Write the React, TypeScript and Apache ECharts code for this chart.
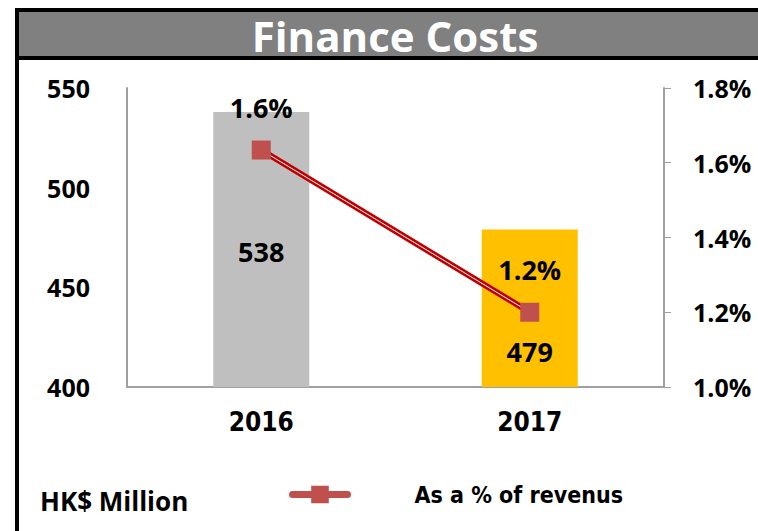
import React, { useEffect, useRef } from "react";
import * as echarts from "echarts";

const categories = ["2016", "2017"];
const costValues = [538, 479];
const ratioValues = [1.634, 1.2];
const ratioLabels = ["1.6%", "1.2%"];
const leftTicks = [400, 450, 500, 550];
const rightTicks = [1.0, 1.2, 1.4, 1.6, 1.8];
const barColors = ["#BFBFBF", "#FFC000"];

export default function App() {
  const ref = useRef<HTMLDivElement>(null);
  useEffect(() => {
    if (!ref.current) return;
    const chart = echarts.init(ref.current, null, { renderer: "svg" });
    const font = "'Open Sans', 'Noto Sans', sans-serif";
    const narrow = "'DejaVu Sans Condensed', 'Liberation Sans Narrow', sans-serif";
    chart.setOption({
      animation: false,
      backgroundColor: "#ffffff",
      graphic: [
        { type: "rect", shape: { x: 15, y: 8, width: 750, height: 52 }, style: { fill: "#000" }, silent: true },
        { type: "rect", shape: { x: 19, y: 12, width: 745, height: 44 }, style: { fill: "#808080" }, silent: true },
        { type: "rect", shape: { x: 15, y: 8, width: 4, height: 530 }, style: { fill: "#000" }, silent: true },
        {
          type: "text", x: 395, y: 35,
          style: { text: "Finance Costs", fill: "#fff", font: `bold 42px ${font}`, textAlign: "center", textVerticalAlign: "middle" },
          silent: true,
        },
        {
          type: "text", x: 40, y: 501,
          style: { text: "HK$ Million", fill: "#000", font: `bold 26px ${font}`, textAlign: "left", textVerticalAlign: "middle" },
          silent: true,
        },
      ],
      legend: {
        data: [{ name: "As a % of revenus" }],
        left: 284,
        top: 478,
        itemWidth: 55,
        itemHeight: 22,
        lineStyle: { color: "#C0504D", width: 7, cap: "round" },
        itemStyle: { color: "#C0504D" },
        textStyle: { fontFamily: narrow, fontWeight: "bold", fontSize: 23, color: "#000", padding: [0, 0, 0, 62] },
        selectedMode: false,
      },
      grid: { left: 127, right: 94, top: 88, bottom: 144 },
      xAxis: {
        type: "category",
        data: categories,
        axisLine: { lineStyle: { color: "#A0A0A0", width: 2 } },
        axisTick: { show: false },
        axisLabel: { fontFamily: narrow, fontWeight: "bold", fontSize: 26, color: "#000", margin: 22 },
      },
      yAxis: [
        {
          type: "value",
          min: leftTicks[0],
          max: leftTicks[leftTicks.length - 1],
          interval: 50,
          axisLine: { show: true, lineStyle: { color: "#A0A0A0", width: 2 } },
          axisTick: { show: false },
          splitLine: { show: false },
          axisLabel: { fontFamily: font, fontWeight: "bold", fontSize: 25, color: "#000", margin: 37 },
        },
        {
          type: "value",
          min: rightTicks[0],
          max: rightTicks[rightTicks.length - 1],
          interval: 0.2,
          position: "right",
          axisLine: { show: true, lineStyle: { color: "#A0A0A0", width: 2 } },
          axisTick: { show: true, length: 7, lineStyle: { color: "#A0A0A0", width: 1 } },
          splitLine: { show: false },
          axisLabel: {
            fontFamily: font, fontWeight: "bold", fontSize: 25, color: "#000", margin: 29,
            formatter: (v: number) => v.toFixed(1) + "%",
          },
        },
      ],
      series: [
        {
          type: "bar",
          name: "Finance costs",
          barWidth: 96,
          data: costValues.map((v, i) => ({
            value: v,
            itemStyle: { color: barColors[i] },
            label: { offset: [0, i === 0 ? 2 : 43] },
          })),
          label: {
            show: true, position: "inside",
            fontFamily: font, fontWeight: "bold", fontSize: 27, color: "#000", textBorderWidth: 0,
          },
          z: 1,
        },
        {
          type: "line",
          name: "As a % of revenus",
          yAxisIndex: 1,
          data: ratioValues,
          symbol: "rect",
          symbolSize: 19,
          showSymbol: false,
          itemStyle: { color: "#C0504D" },
          lineStyle: { color: "#C00000", width: 6 },
          z: 2,
        },
        {
          type: "line",
          name: "inner",
          yAxisIndex: 1,
          data: ratioValues,
          showSymbol: false,
          symbol: "none",
          silent: true,
          lineStyle: { color: "#ffffff", width: 1 },
          z: 3,
        },
        {
          type: "scatter",
          name: "markers",
          yAxisIndex: 1,
          data: ratioValues,
          symbol: "rect",
          symbolSize: 19,
          itemStyle: { color: "#C0504D", opacity: 1 },
          silent: true,
          label: {
            show: true, position: "inside", offset: [0, -43],
            formatter: (p: any) => ratioLabels[p.dataIndex],
            fontFamily: font, fontWeight: "bold", fontSize: 27, color: "#000", textBorderWidth: 0,
          },
          z: 4,
        },
      ],
    });
    return () => chart.dispose();
  }, []);
  return <div ref={ref} style={{ position: "absolute", left: 0, top: 0, width: 758, height: 531 }} />;
}
